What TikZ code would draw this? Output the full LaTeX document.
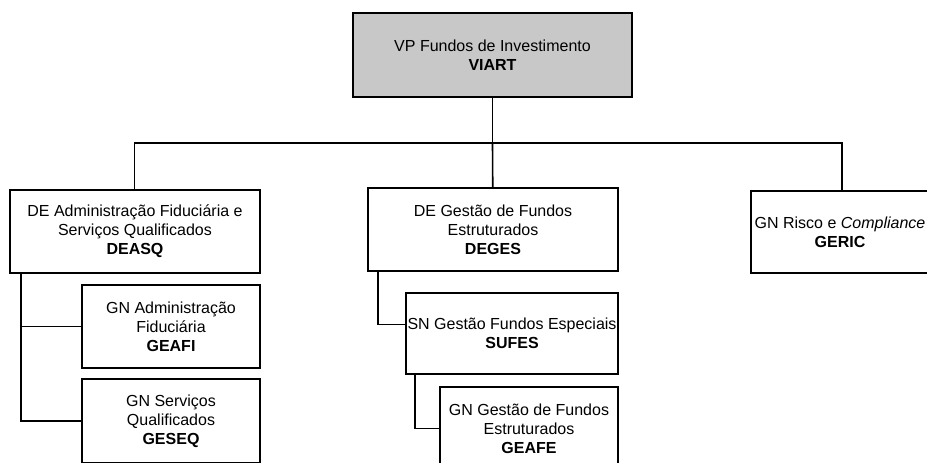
\documentclass[tikz,border=0pt]{standalone}
\usepackage{fontspec}
\setmainfont{Liberation Sans}
\definecolor{vpgray}{RGB}{200,200,200}
\begin{document}
\begin{tikzpicture}[x=1pt,y=-1pt,
    unit/.style={draw,line width=1.6pt,align=center,inner sep=0pt,
        font=\fontsize{16}{19}\selectfont},
    link/.style={line width=1.6pt}]
\clip (0,0) rectangle (927,463);
\node[unit,fill=vpgray,minimum width=279,minimum height=84] (viart) at (492.5,55)
    {VP Fundos de Investimento\\\textbf{VIART}};
\node[unit,minimum width=250,minimum height=83] (deasq) at (135,231.5)
    {DE Administração Fiduciária e\\Serviços Qualificados\\\textbf{DEASQ}};
\node[unit,minimum width=178,minimum height=83] (geafi) at (171,326.5)
    {GN Administração\\Fiduciária\\\textbf{GEAFI}};
\node[unit,minimum width=178,minimum height=84] (geseq) at (171,421)
    {GN Serviços\\Qualificados\\\textbf{GESEQ}};
\node[unit,minimum width=250,minimum height=83] (deges) at (493,229.5)
    {DE Gestão de Fundos\\Estruturados\\\textbf{DEGES}};
\node[unit,minimum width=212,minimum height=81] (sufes) at (512,333.5)
    {SN Gestão Fundos Especiais\\\textbf{SUFES}};
\node[unit,minimum width=178,minimum height=83] (geafe) at (529,428.5)
    {GN Gestão de Fundos\\Estruturados\\\textbf{GEAFE}};
\node[unit,minimum width=178,minimum height=82] (geric) at (840,232)
    {GN Risco e \textit{Compliance}\\\textbf{GERIC}};

\coordinate (bar) at (492.5,143);
\draw[link] (viart) -- (bar);
\draw[link] (bar) -| ([xshift=-0.5pt]deasq.north);
\draw[link] (bar) -| ([xshift=2pt]geric.north);
\draw[link] (bar) -- (deges);
\foreach \sub in {geafi,geseq}{
    \draw[link] ([xshift=12pt]deasq.south west) |- (\sub.west);
}
\draw[link] ([xshift=11pt]deges.south west) |- ([yshift=9pt]sufes.west);
\draw[link] ([xshift=10pt]sufes.south west) |- (geafe.west);
\end{tikzpicture}
\end{document}
